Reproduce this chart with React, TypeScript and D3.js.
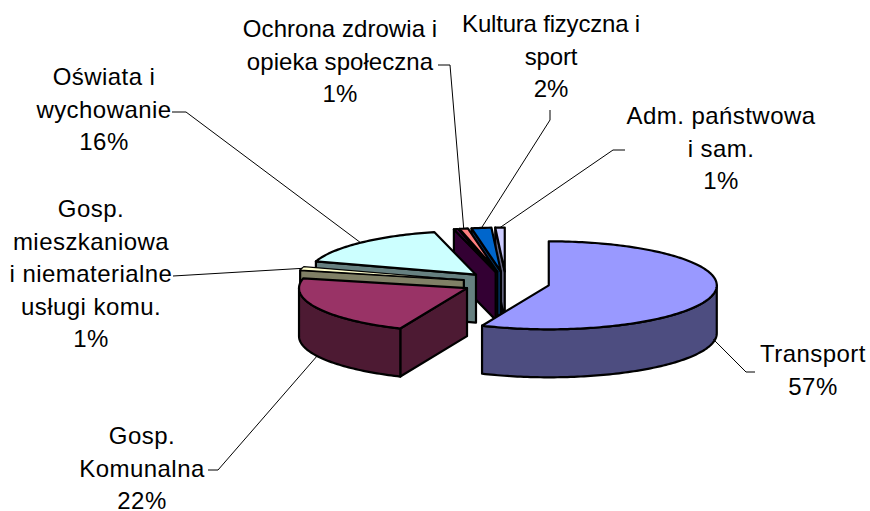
import React from "react";
import * as d3 from "d3";

// ---- data
const categories = ["Transport", "Gosp. Komunalna", "Gosp. mieszkaniowa i niematerialne usługi komu.", "Oświata i wychowanie", "", "Ochrona zdrowia i opieka społeczna", "Kultura fizyczna i sport", "Adm. państwowa i sam."];
const values = [56.5, 22.1, 1.3, 16.1, 0.4, 0.8, 1.9, 0.9];
const colors = ["#9999FF", "#993366", "#FFFFCC", "#CCFFFF", "#660066", "#FF8080", "#0066CC", "#CCCCFF"];

// ---- label layout: text lines, centre x, first baseline y, leader polyline start
const labelLines = [
  ["Transport", "57%"],
  ["Gosp.", "Komunalna", "22%"],
  ["Gosp.", "mieszkaniowa", "i niematerialne", "usługi komu.", "1%"],
  ["Oświata i", "wychowanie", "16%"],
  [],
  ["Ochrona zdrowia i", "opieka społeczna", "1%"],
  ["Kultura fizyczna i", "sport", "2%"],
  ["Adm. państwowa", "i sam.", "1%"],
];
const labelX = [813, 142, 91, 104, 0, 340, 551, 721];
const labelY = [362, 444, 217, 85, 0, 37, 32, 124];
const labelSpacing = [0.45, 0.45, 0.45, 0.45, 0, 0.05, -0.2, 0.45];
const leaderStart: [number, number][][] = [
  [[755, 372], [746, 372]],
  [[208, 470], [218, 470]],
  [[173, 276]],
  [[172, 112], [186, 112]],
  [],
  [[438, 65], [450, 65]],
  [[550, 110], [550, 120]],
  [[625, 150], [613, 150]],
];
const leaderDrop = [45, 48, 0, 0, 0, 0, 0, 0];

// ---- projection
const cx = 506, cy = 283, rx = 168, ry = 44, depth = 48, explode = 0.26;
const lineGen = d3.line<[number, number]>();
const TAU = Math.PI * 2;
const pieGen = d3.pie<number>().sort(null).startAngle(0).endAngle(TAU);
const arcs = pieGen(values);

const centerOf = (a0: number, a1: number): [number, number] => {
  const m = (a0 + a1) / 2;
  return [cx + explode * rx * Math.sin(m), cy - explode * ry * Math.cos(m)];
};
const rim = (c: [number, number], a: number, dy = 0): [number, number] => [c[0] + rx * Math.sin(a), c[1] - ry * Math.cos(a) + dy];
const arcPts = (c: [number, number], a0: number, a1: number, dy = 0) => {
  const n = Math.max(2, Math.ceil(Math.abs(a1 - a0) / 0.02));
  return d3.range(n + 1).map((i) => rim(c, a0 + ((a1 - a0) * i) / n, dy));
};
const dark = (col: string) => {
  const c = d3.rgb(col);
  return d3.rgb(c.r / 2, c.g / 2, c.b / 2).formatHex();
};
const closed = (p: [number, number][]) => (lineGen(p) as string) + "Z";

function Slice({ i }: { i: number }) {
  const { startAngle: a0, endAngle: a1 } = arcs[i];
  const c = centerOf(a0, a1);
  const side = dark(colors[i]);
  const shapes: string[] = [];
  // start wall faces the viewer in the left half, end wall in the right half
  if (Math.sin(a0) < 0) {
    const r = rim(c, a0);
    shapes.push(closed([c, r, [r[0], r[1] + depth], [c[0], c[1] + depth]]));
  }
  if (Math.sin(a1) > 0) {
    const r = rim(c, a1);
    shapes.push(closed([c, r, [r[0], r[1] + depth], [c[0], c[1] + depth]]));
  }
  // outer rim: visible between 90° and 270°
  const from = Math.max(a0, Math.PI / 2);
  const to = Math.min(a1, (Math.PI * 3) / 2);
  if (to > from) {
    const topEdge = arcPts(c, from, to);
    const botEdge = arcPts(c, to, from, depth);
    shapes.push(closed([...topEdge, ...botEdge]));
  }
  const top = closed([c, ...arcPts(c, a0, a1)]);
  return (
    <g stroke="#000" strokeWidth={2.2} strokeLinejoin="round">
      {shapes.map((d, k) => <path key={k} d={d} fill={side} />)}
      <path d={top} fill={colors[i]} strokeWidth={i === 2 ? 1.2 : 2.2} />
    </g>
  );
}

export default function App() {
  const order = d3.range(values.length).reverse();
  return (
    <svg width={870} height={511} style={{ position: "absolute", left: 0, top: 0, background: "#fff" }}
      fontFamily="'Liberation Sans', Arial, sans-serif" fontSize={24}>
      {order.map((i) => <Slice key={i} i={i} />)}
      {arcs.map((a, i) => {
        if (!leaderStart[i].length) return null;
        const m = (a.startAngle + a.endAngle) / 2;
        const end = rim(centerOf(a.startAngle, a.endAngle), m, leaderDrop[i]);
        return <path key={i} d={lineGen([...leaderStart[i], end]) as string} fill="none" stroke="#000" strokeWidth={1} />;
      })}
      {labelLines.map((lines, i) => (
        <text key={i} textAnchor="middle" fill="#000" letterSpacing={labelSpacing[i]} aria-label={categories[i]}>
          {lines.map((t, k) => (
            <tspan key={k} x={labelX[i]} y={labelY[i] + k * 32.5}>{t}</tspan>
          ))}
        </text>
      ))}
    </svg>
  );
}
